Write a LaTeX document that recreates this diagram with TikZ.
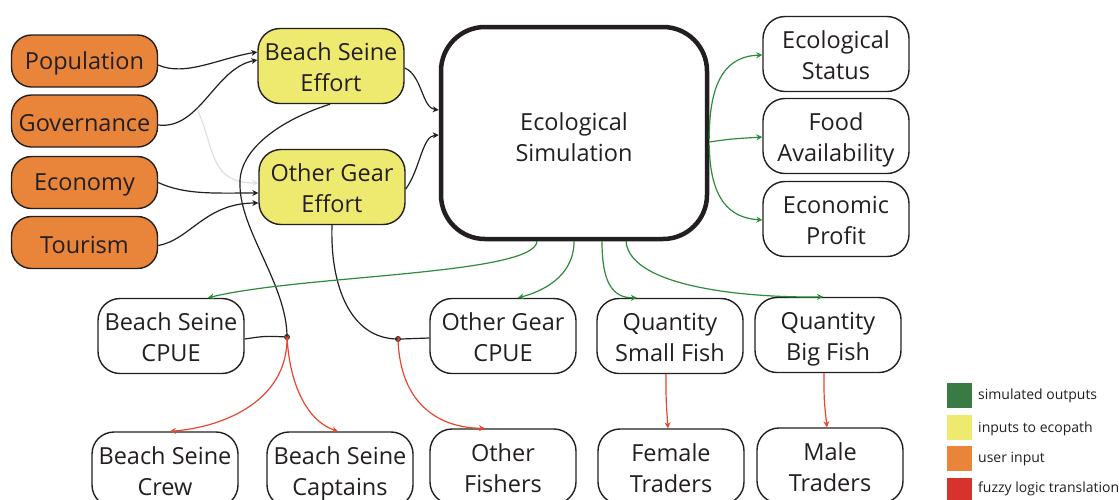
\documentclass[tikz,border=0pt]{standalone}
\usepackage{fontspec}
\setmainfont{Open Sans}
\usetikzlibrary{arrows.meta}
\definecolor{uorange}{HTML}{E8853A}
\definecolor{uyellow}{HTML}{EEEA70}
\definecolor{lgreen}{HTML}{3A7A45}
\definecolor{lred}{HTML}{D8322E}
\definecolor{agreen}{HTML}{2E8B3E}
\definecolor{ared}{HTML}{E8472E}
\definecolor{ink}{HTML}{231F20}
\newcommand{\twolines}[2]{\raisebox{-4pt}[\height][\depth]{\begin{tabular}{@{}c@{}}#1\\#2\end{tabular}}}
\newcommand{\oneline}[1]{\raisebox{-2pt}[\height][\depth]{#1}}
\begin{document}
\begin{tikzpicture}[x=1pt,y=-1pt,
  box/.style={draw=ink, line width=1.4pt, rounded corners=22pt, minimum width=146pt, minimum height=75pt,
    align=center, inner sep=0pt, text=ink, font=\fontsize{23.5}{31}\selectfont},
  user/.style={box, fill=uorange, minimum width=146pt, minimum height=52pt, rounded corners=20pt},
  eco/.style={box, fill=uyellow},
  conn/.style={draw=ink, line width=1.2pt, -{Stealth[length=6pt,width=6pt]}},
  plain/.style={draw=ink, line width=1.2pt},
  gconn/.style={draw=agreen, line width=1.2pt, -{Stealth[length=6pt,width=6pt]}},
  rconn/.style={draw=ared, line width=1.2pt, -{Stealth[length=6pt,width=6pt]}},
  jdot/.style={circle, draw=ink, fill=ared, line width=0.8pt, minimum size=5pt, inner sep=0pt},
  legbox/.style={minimum width=25pt, minimum height=25pt, inner sep=0pt},
  legtext/.style={anchor=west, inner sep=0pt, text=ink, font=\fontsize{14}{16}\selectfont}
]
\clip (0,0) rectangle (1119,499);
\fill[white] (0,0) rectangle (1119,499);

% user inputs
\node[user] (pop) at (84.5,61) {\oneline{Population}};
\node[user] (gov) at (84.5,121) {\oneline{Governance}};
\node[user] (econ) at (84.5,182.5) {\oneline{Economy}};
\node[user] (tour) at (84.5,242.5) {\oneline{Tourism}};

% ecopath inputs
\node[eco] (bse) at (331,66) {\twolines{Beach Seine}{Effort}};
\node[eco] (oge) at (332,187) {\twolines{Other Gear}{Effort}};

% simulation
\node[box, line width=4.5pt, rounded corners=44pt, minimum width=266pt, minimum height=212pt] (sim) at (574,133)
  {\raisebox{-7pt}[\height][\depth]{\begin{tabular}{@{}c@{}}Ecological\\Simulation\end{tabular}}};

% outputs right
\node[box] (estat) at (836,54) {\twolines{Ecological}{Status}};
\node[box] (food) at (836,136) {\twolines{Food}{Availability}};
\node[box] (profit) at (836,219) {\twolines{Economic}{Profit}};

% middle row
\node[box] (bscpue) at (171,336) {\twolines{Beach Seine}{CPUE}};
\node[box] (ogcpue) at (503,336) {\twolines{Other Gear}{CPUE}};
\node[box] (qsf) at (670,336) {\twolines{Quantity}{Small Fish}};
\node[box] (qbf) at (828,335) {\twolines{Quantity}{Big Fish}};

% bottom row
\node[box] (crew) at (165,469.5) {\twolines{Beach Seine}{Crew}};
\node[box] (capt) at (340,469.5) {\twolines{Beach Seine}{Captains}};
\node[box] (ofish) at (503,466.5) {\twolines{Other}{Fishers}};
\node[box] (female) at (671,466.5) {\twolines{Female}{Traders}};
\node[box] (male) at (830,465.5) {\twolines{Male}{Traders}};

% junctions
\node[jdot] (j1) at (287,337) {};
\node[jdot] (j2) at (398,339) {};
\coordinate (gs) at (198,111);

% user input -> effort
\draw[conn] ([yshift=-4pt]pop.east) .. controls (185,77) and (220,58) .. ([yshift=14pt]bse.west);
\draw[conn] ([yshift=-4pt]gov.east) .. controls (200,130) and (215,68) .. ([yshift=6pt]bse.west);
\draw[conn, draw=black!12] (gs) .. controls (215,150) and (210,183) .. ([yshift=4pt]oge.west);
\draw[conn] (econ.east) .. controls (185,195) and (215,193) .. ([yshift=-6pt]oge.west);
\draw[conn] ([yshift=-3pt]tour.east) .. controls (190,240) and (205,203) .. ([yshift=-16pt]oge.west);

% effort -> simulation
\draw[conn] ([yshift=-2pt]bse.east) .. controls (422,75) and (422,108) .. ([yshift=23pt]sim.west);
\draw[conn] ([yshift=-2pt]oge.east) .. controls (420,170) and (422,136) .. ([yshift=-2pt]sim.west);

% effort -> junctions
\draw[plain] ([xshift=-1pt]bse.south) .. controls (280,120) and (238,150) .. (240,185)
  .. controls (240,230) and (287,285) .. (j1.center);
\draw[plain] (oge.south) .. controls (330,285) and (350,339) .. (j2.center);
\draw[plain] (j1) .. controls (265,336) .. ([yshift=-3pt]bscpue.east);
\draw[plain] (j2) .. controls (415,339) .. ([yshift=-2pt]ogcpue.west);

% fuzzy logic translations
\draw[rconn] (j1.center) .. controls (288,400) and (225,427) .. ([xshift=5pt]crew.north);
\draw[rconn] (j1.center) .. controls (290,390) and (310,422) .. ([xshift=-2pt]capt.north);
\draw[rconn] (j2.center) .. controls (400,405) and (440,428) .. ([xshift=-18pt]ofish.north);
\draw[rconn] ([xshift=-4pt]qsf.south) .. controls (666,400) .. ([xshift=-3pt]female.north);
\draw[rconn] ([xshift=-4pt]qbf.south) .. controls (824,400) .. ([xshift=-3pt]male.north);

% simulated outputs
\draw[gconn] ([xshift=-37pt]sim.south) .. controls (535,275) and (300,275) .. ([xshift=37pt]bscpue.north);
\draw[gconn] ([xshift=0pt]sim.south) .. controls (574,278) and (540,292) .. ([xshift=15pt]ogcpue.north);
\draw[gconn] ([xshift=28pt]sim.south) .. controls (602,282) and (612,298) .. ([xshift=-33pt]qsf.north);
\draw[gconn] ([xshift=52pt]sim.south) .. controls (630,290) and (760,298) .. ([xshift=-5pt]qbf.north);
\draw[gconn] ([yshift=-6pt]sim.east) .. controls (709,75) and (730,56) .. ([yshift=-1pt]estat.west);
\draw[gconn] ([yshift=-9pt]sim.east) .. controls (730,139) .. ([yshift=-1pt]food.west);
\draw[gconn] ([yshift=-12pt]sim.east) .. controls (710,200) and (730,218) .. ([yshift=-1pt]profit.west);

% legend
\node[legbox, fill=lgreen] (lg1) at (959.5,395.5) {};
\node[legbox, fill=uyellow] (lg2) at (959.5,427.5) {};
\node[legbox, fill=uorange] (lg3) at (959.5,458) {};
\node[legbox, fill=lred] (lg4) at (959.5,490) {};
\node[legtext] (lt1) at (978,396) {simulated outputs};
\node[legtext] (lt2) at (978,429) {inputs to ecopath};
\node[legtext] (lt3) at (978,459) {user input};
\node[legtext] (lt4) at (978,489) {fuzzy logic translation};
\end{tikzpicture}
\end{document}
